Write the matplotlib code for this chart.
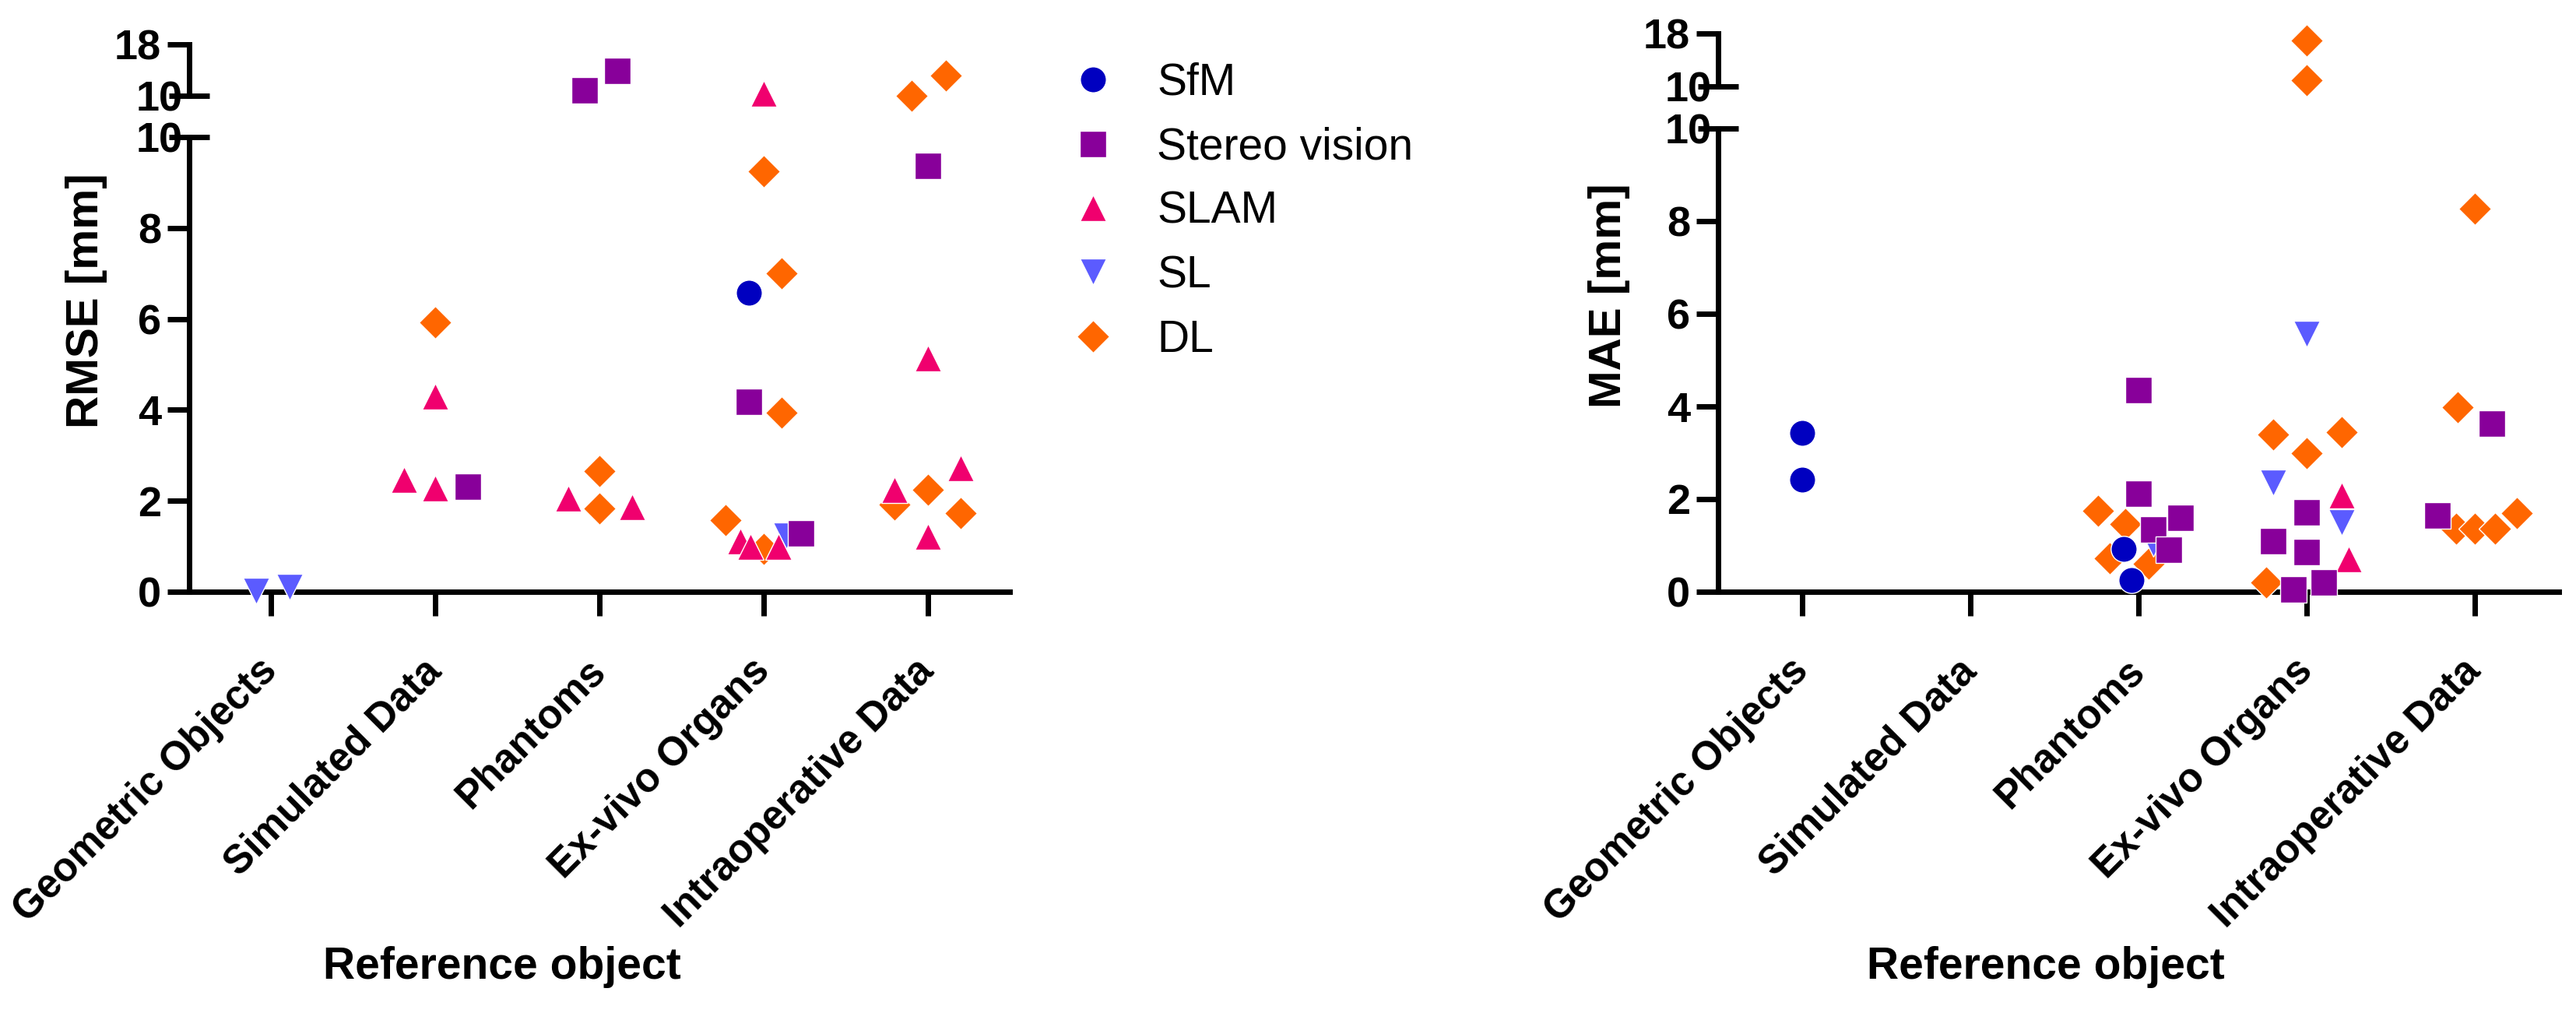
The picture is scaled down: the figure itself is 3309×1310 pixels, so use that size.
import numpy as np
import matplotlib
matplotlib.use("Agg")
import matplotlib.pyplot as plt

plt.rcParams['font.family'] = ['Liberation Sans', 'DejaVu Sans']

categories = ["Geometric Objects", "Simulated Data", "Phantoms", "Ex-vivo Organs", "Intraoperative Data"]
methods = ["SfM", "Stereo vision", "SLAM", "SL", "DL"]

# RMSE panel: category index, value, small horizontal jitter (as in the source figure)
rmse_sfm_cat = [3]
rmse_sfm_val = [6.58]
rmse_sfm_dx = [-0.09]

rmse_stereo_cat = [1, 2, 2, 3, 3, 4]
rmse_stereo_val = [2.32, 10.9, 13.9, 4.18, 1.29, 9.36]
rmse_stereo_dx = [0.2, -0.09, 0.11, -0.09, 0.23, 0.0]

rmse_slam_cat = [1, 1, 1, 2, 2, 3, 3, 3, 3, 4, 4, 4, 4]
rmse_slam_val = [4.3, 2.47, 2.28, 2.06, 1.86, 10.4, 1.11, 1.0, 1.0, 5.14, 2.72, 2.24, 1.22]
rmse_slam_dx = [0.0, -0.19, 0.0, -0.19, 0.2, 0.0, -0.14, -0.08, 0.09, 0.0, 0.2, -0.2, 0.0]

rmse_sl_cat = [0, 0, 3]
rmse_sl_val = [0.02, 0.1, 1.24]
rmse_sl_dx = [-0.09, 0.11, 0.14]

rmse_dl_cat = [1, 2, 2, 3, 3, 3, 3, 3, 4, 4, 4, 4, 4]
rmse_dl_val = [5.93, 2.66, 1.83, 9.24, 7.0, 3.93, 1.58, 0.94, 10.0, 13.1, 2.25, 1.92, 1.73]
rmse_dl_dx = [0.0, 0.0, 0.0, 0.0, 0.11, 0.11, -0.23, 0.0, -0.1, 0.11, 0.0, -0.2, 0.2]

# MAE panel
mae_sfm_cat = [0, 0, 2, 2]
mae_sfm_val = [3.43, 2.42, 0.92, 0.26]
mae_sfm_dx = [0.0, 0.0, -0.09, -0.04]

mae_stereo_cat = [2, 2, 2, 2, 2, 3, 3, 3, 3, 3, 4, 4]
mae_stereo_val = [4.35, 2.12, 1.35, 1.59, 0.9, 1.72, 1.1, 0.86, 0.05, 0.21, 3.63, 1.65]
mae_stereo_dx = [0.0, 0.0, 0.09, 0.25, 0.18, 0.0, -0.2, 0.0, -0.08, 0.1, 0.1, -0.22]

mae_slam_cat = [3, 3]
mae_slam_val = [2.09, 0.71]
mae_slam_dx = [0.21, 0.25]

mae_sl_cat = [2, 3, 3, 3]
mae_sl_val = [1.05, 5.56, 2.36, 1.49]
mae_sl_dx = [0.09, 0.0, -0.2, 0.21]

mae_dl_cat = [2, 2, 2, 2, 3, 3, 3, 3, 3, 3, 4, 4, 4, 4, 4, 4]
mae_dl_val = [1.74, 1.46, 0.73, 0.6, 16.95, 10.9, 3.39, 3.45, 3.0, 0.2, 8.27, 3.99, 1.69, 1.36, 1.36, 1.36]
mae_dl_dx = [-0.24, -0.08, -0.17, 0.06, 0.0, 0.0, -0.2, 0.21, 0.0, -0.24, 0.0, -0.1, 0.25, -0.11, 0.0, 0.12]

colors = {"SfM": "#0000c0", "Stereo vision": "#88009a", "SLAM": "#f0006e", "SL": "#5b5bff", "DL": "#ff6600"}
markers = {"SfM": "o", "Stereo vision": "s", "SLAM": "^", "SL": "v", "DL": "D"}
msizes = {"SfM": 24, "Stereo vision": 24, "SLAM": 24, "SL": 24, "DL": 21}

rmse_series = {
    "SfM": (rmse_sfm_cat, rmse_sfm_val, rmse_sfm_dx),
    "Stereo vision": (rmse_stereo_cat, rmse_stereo_val, rmse_stereo_dx),
    "SLAM": (rmse_slam_cat, rmse_slam_val, rmse_slam_dx),
    "SL": (rmse_sl_cat, rmse_sl_val, rmse_sl_dx),
    "DL": (rmse_dl_cat, rmse_dl_val, rmse_dl_dx),
}
mae_series = {
    "SfM": (mae_sfm_cat, mae_sfm_val, mae_sfm_dx),
    "Stereo vision": (mae_stereo_cat, mae_stereo_val, mae_stereo_dx),
    "SLAM": (mae_slam_cat, mae_slam_val, mae_slam_dx),
    "SL": (mae_sl_cat, mae_sl_val, mae_sl_dx),
    "DL": (mae_dl_cat, mae_dl_val, mae_dl_dx),
}

W, H = 3309, 1310
fig = plt.figure(figsize=(W / 100, H / 100), dpi=100)

LW = 5
TICKFS = 39


def px_axes(x0, x1, ytop, ybot):
    return fig.add_axes([x0 / W, 1 - ybot / H, (x1 - x0) / W, (ybot - ytop) / H])


def draw_panel(lo_box, hi_box, series, ylabel, label_x):
    ax = px_axes(*lo_box)
    axh = px_axes(*hi_box)
    handles = {}
    for name in ["DL", "SL", "SLAM", "Stereo vision", "SfM"]:
        cat, val, dx = series[name]
        x = np.array(cat, dtype=float) + np.array(dx)
        v = np.array(val)
        lo = v < 10
        kw = dict(linestyle="none", marker=markers[name], ms=msizes[name], color=colors[name],
                  mec="white", mew=1.0, clip_on=False, zorder=3)
        h, = ax.plot(x[lo], v[lo], **kw)
        axh.plot(x[~lo], v[~lo], **kw)
        handles[name] = h

    for a in (ax, axh):
        a.set_xlim(-0.5, 4.5)
        for s in ["top", "right"]:
            a.spines[s].set_visible(False)
        a.spines["left"].set_linewidth(LW)
        a.spines["bottom"].set_linewidth(LW)
        a.tick_params(axis="y", which="both", width=LW, labelsize=TICKFS, pad=6)

    ax.set_ylim(0, 10)
    ax.set_yticks([0, 2, 4, 6, 8])
    ax.set_yticks([10], labels=["10"], minor=True)
    ax.tick_params(axis="y", which="major", direction="out", length=20)
    ax.tick_params(axis="y", which="minor", direction="inout", length=38, pad=-13)
    ax.set_xticks(range(len(categories)))
    ax.set_xticklabels(categories, rotation=45, ha="right", va="center",
                       rotation_mode="anchor", fontsize=37, fontweight="bold")
    ax.tick_params(axis="x", direction="out", length=22, width=LW, pad=46)

    axh.set_ylim(10, 18)
    axh.set_yticks([18])
    axh.set_yticks([10], labels=["10"], minor=True)
    axh.tick_params(axis="y", which="major", direction="out", length=20)
    axh.tick_params(axis="y", which="minor", direction="inout", length=38, pad=-13)
    axh.spines["bottom"].set_visible(False)
    axh.set_xticks([])
    axh.patch.set_visible(False)

    for a in (ax, axh):
        for lab in a.get_yticklabels(which="both"):
            lab.set_fontweight("bold")

    ax.set_ylabel(ylabel, fontsize=42, fontweight="bold")
    ax.yaxis.set_label_coords(label_x, 0.64)
    return ax, handles


axL, hL = draw_panel((243, 1297, 176, 760), (243, 1297, 57, 123), rmse_series, "RMSE [mm]", -0.10)
axR, hR = draw_panel((2207, 3287, 165, 760), (2207, 3287, 43, 111), mae_series, "MAE [mm]", -0.105)

fig.text(645 / W, 1 - 1242 / H, "Reference object", ha="center", va="center", fontsize=41, fontweight="bold")
fig.text(2628 / W, 1 - 1242 / H, "Reference object", ha="center", va="center", fontsize=41, fontweight="bold")

fig.legend([hL[m] for m in methods], methods, loc="upper left",
           bbox_to_anchor=(1376 / W, 1 - 80 / H), frameon=False, fontsize=41,
           handlelength=1.0, handletextpad=0.94, labelspacing=0.5,
           borderpad=0, borderaxespad=0)

fig.savefig("out.png", dpi=100)
